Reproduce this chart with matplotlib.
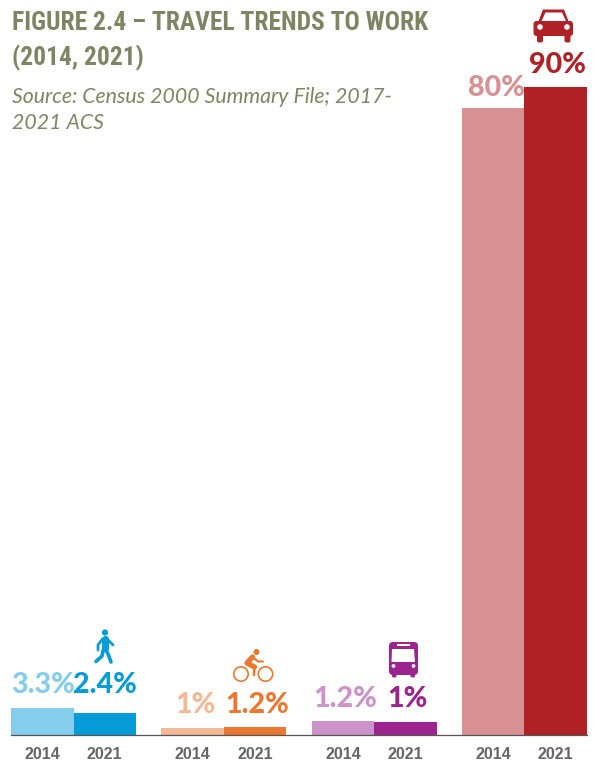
import matplotlib
matplotlib.use("Agg")
import matplotlib.pyplot as plt
from matplotlib.patches import Circle, FancyBboxPatch, Polygon, Rectangle

W, H = 594, 761

modes = ["walk", "bike", "bus", "car"]
years = ["2014", "2021"]
# bar heights do not follow the printed labels in the original, read separately
heights_2014 = [3.65, 0.95, 1.85, 87.1]
heights_2021 = [3.0, 1.1, 1.7, 90.0]
labels_2014 = ["3.3%", "1%", "1.2%", "80%"]
labels_2021 = ["2.4%", "1.2%", "1%", "90%"]
colors_2014 = ["#85CDEC", "#F4B896", "#CB93CA", "#D89093"]
colors_2021 = ["#069CD8", "#EC7830", "#9B248F", "#B02025"]

TITLE = ["FIGURE 2.4 – TRAVEL TRENDS TO WORK", "(2014, 2021)"]
SOURCE = ["Source: Census 2000 Summary File; 2017-", "2021 ACS"]

# label offsets from the bar top, in pixels (x, y)
offset_2014 = [(1, 15), (3, 15), (2, 14), (3.5, 12)]
offset_2021 = [(0.5, 20), (2, 14), (2, 15), (1.5, 14)]

fig = plt.figure(figsize=(W / 100, H / 100), dpi=100)

# main bars
ax = fig.add_axes([11 / W, (H - 734.5) / H, 576 / W, 647.5 / H])
bar_w = 0.416
label_font = dict(fontsize=20.6, fontweight=900, family="Lato", ha="center", va="baseline",
                  textcoords="offset pixels")
for i in range(len(modes)):
    ax.bar(i - bar_w / 2, heights_2014[i], bar_w, color=colors_2014[i])
    ax.bar(i + bar_w / 2, heights_2021[i], bar_w, color=colors_2021[i])
    ax.annotate(labels_2014[i], (i - bar_w / 2, heights_2014[i]), xytext=offset_2014[i],
                color=colors_2014[i], **label_font)
    ax.annotate(labels_2021[i], (i + bar_w / 2, heights_2021[i]), xytext=offset_2021[i],
                color=colors_2021[i], **label_font)
ax.set_xlim(-bar_w, 3 + bar_w)
ax.set_ylim(0, 90)
ax.set_yticks([])
ticks = [i + s * bar_w / 2 for i in range(len(modes)) for s in (-1, 1)]
ax.set_xticks(ticks)
ax.set_xticklabels(years * len(modes), fontsize=11.5, fontweight="bold",
                   family="Liberation Sans", color="#666666")
ax.tick_params(axis="x", length=0, pad=9)
for s in ["top", "left", "right"]:
    ax.spines[s].set_visible(False)
ax.spines["bottom"].set_color("#555555")
ax.spines["bottom"].set_linewidth(0.9)
ax.patch.set_alpha(0)

# overlay in pixel coordinates for the title and the pictograms
ov = fig.add_axes([0, 0, 1, 1])
ov.set_xlim(0, W)
ov.set_ylim(H, 0)
ov.axis("off")
ov.patch.set_alpha(0)

title_font = dict(fontsize=18.4, fontweight="bold", family="Roboto Condensed",
                  color="#7F8463", va="baseline")
ov.text(11.5, 30, TITLE[0], **title_font)
ov.text(11.5, 65, TITLE[1], **title_font)
source_font = dict(fontsize=15.3, style="italic", fontweight="normal", family="Lato",
                   color="#7F8463", va="baseline")
ov.text(11.5, 103, SOURCE[0], **source_font)
ov.text(11.5, 129, SOURCE[1], **source_font)


def limb(pts, color, lw):
    xs, ys = zip(*pts)
    ov.plot(xs, ys, color=color, lw=lw, solid_capstyle="round", solid_joinstyle="round")


# walker
c = colors_2021[0]
ov.add_patch(Circle((105, 632.5), 3.1, color=c, lw=0))
limb([(104.5, 639), (104.5, 648)], c, 5.2)
limb([(102.5, 639), (98, 645), (98, 650)], c, 2.0)
limb([(107, 639), (113, 645)], c, 2.0)
limb([(103.5, 649), (102, 656), (96, 661.5)], c, 2.6)
limb([(105.5, 649), (108.5, 655), (111, 662)], c, 2.6)

# cyclist
c = colors_2021[1]
ov.add_patch(Circle((241, 674), 7.2, fill=False, ec=c, lw=1.2))
ov.add_patch(Circle((265.5, 674), 7.2, fill=False, ec=c, lw=1.2))
ov.add_patch(Circle((256.5, 652), 3, color=c, lw=0))
limb([(252.5, 657), (247, 663), (254.5, 667)], c, 3.8)
limb([(254.5, 667), (254, 675)], c, 1.8)
limb([(254, 658), (258, 661.5), (263, 661.5)], c, 1.5)

# bus
c = colors_2021[2]
ov.add_patch(FancyBboxPatch((389, 642), 29, 33, boxstyle="round,pad=0,rounding_size=4", fc=c, ec="none"))
ov.add_patch(Polygon([(392, 649), (414, 649), (415, 662), (391.5, 662)], fc="white", ec="none"))
ov.add_patch(Rectangle((397, 644), 13, 1.8, fc="white", ec="none"))
ov.add_patch(Circle((393.5, 666), 1.9, color="white", lw=0))
ov.add_patch(Circle((413.5, 666), 1.9, color="white", lw=0))
ov.add_patch(FancyBboxPatch((392, 673), 4.5, 4.5, boxstyle="round,pad=0,rounding_size=1.5", fc=c, ec="none"))
ov.add_patch(FancyBboxPatch((410.5, 673), 4.5, 4.5, boxstyle="round,pad=0,rounding_size=1.5", fc=c, ec="none"))

# car
c = colors_2021[3]
ov.add_patch(FancyBboxPatch((533.5, 21), 39.5, 15, boxstyle="round,pad=0,rounding_size=3", fc=c, ec="none"))
ov.add_patch(Polygon([(537, 25), (543, 9.5), (564, 9.5), (570, 25)], fc=c, ec="none"))
ov.add_patch(Polygon([(541.5, 21), (545.5, 12.5), (562, 12.5), (566, 21)], fc="white", ec="none"))
ov.add_patch(Circle((540, 27), 2.8, color="white", lw=0))
ov.add_patch(Circle((567, 27), 2.8, color="white", lw=0))
ov.add_patch(FancyBboxPatch((537, 33), 6, 9.5, boxstyle="round,pad=0,rounding_size=2", fc=c, ec="none"))
ov.add_patch(FancyBboxPatch((564.5, 33), 6, 9.5, boxstyle="round,pad=0,rounding_size=2", fc=c, ec="none"))

fig.savefig("out.png", dpi=100)
